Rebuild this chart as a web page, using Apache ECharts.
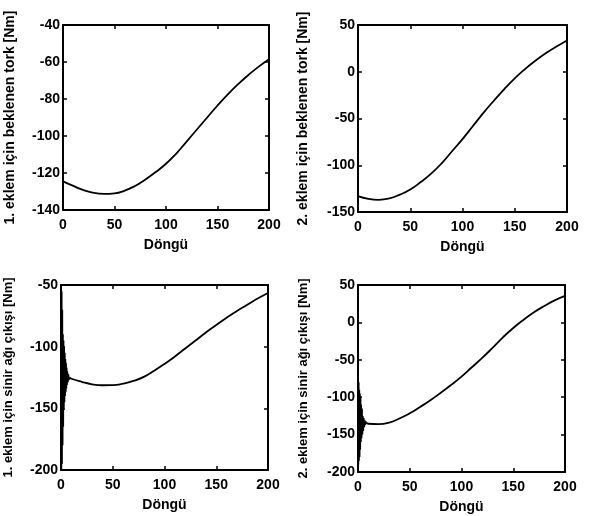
<!DOCTYPE html>
<html>
<head>
<meta charset="utf-8">
<script src="https://cdn.jsdelivr.net/npm/echarts@6/dist/echarts.min.js"></script>
<style>html,body{margin:0;padding:0;background:#fff;}#c{width:591px;height:516px;}</style>
</head>
<body>
<div id="c"></div>
<script>
// x values (Döngü) for smooth parts
const cycles = [0,10,20,30,40,50,60,70,80,90,100,110,120,130,140,150,160,170,180,190,200];
const cyclesAfter = [8,10,20,30,40,50,60,70,80,90,100,110,120,130,140,150,160,170,180,190,200];

// Panel 1: 1. eklem için beklenen tork
const torque1 = [-124.5,-127,-129.3,-130.8,-131.3,-131,-129.5,-127,-123.5,-119.5,-115,-109.5,-103,-96.5,-90,-83.5,-77.5,-72,-67,-62.5,-58.5];
// Panel 2: 2. eklem için beklenen tork
const torque2 = [-133,-136,-137,-135.5,-131.5,-126,-118,-109,-98,-85,-72,-58,-44,-31,-18.5,-7,3,12,20,27,33.5];
// Panel 3: 1. eklem için sinir ağı çıkışı (transient + settled)
const nnX3 = [0,0.3,0.6,0.9,1.2,1.5,1.8,2.1,2.4,2.7,3.0,3.3,3.6,3.9,4.2,4.5,4.8,5.1,5.4,5.7,6.0,6.5,7,7.5,8];
const nnY3 = [-50,-200,-55,-195,-70,-180,-90,-165,-95,-150,-100,-145,-105,-140,-110,-137,-113,-134,-117,-131,-120,-129,-122,-127,-125];
const nn1 = [-125,-126,-128.5,-130.5,-131.3,-131.2,-130,-127.8,-124.5,-119.5,-114,-108,-101.5,-95,-88.5,-82.5,-76.5,-71,-66,-61,-56.5];
// Panel 4: 2. eklem için sinir ağı çıkışı
const nnX4 = [0,0.3,0.6,0.9,1.2,1.5,1.8,2.1,2.4,2.7,3,3.4,3.8,4.2,4.6,5,5.5,6,6.5,7,7.5,8];
const nnY4 = [-20,-190,-80,-185,-90,-180,-95,-170,-100,-160,-110,-155,-115,-150,-125,-145,-128,-140,-131,-137,-133,-134];
const nn2 = [-134,-135.5,-136,-134,-128.5,-121.5,-113,-104,-94,-83.5,-72.5,-60,-47.5,-34,-20,-7.5,3.5,13.5,22,29.5,35.5];

const xTicks = {min:0, max:200, interval:50};
const yRanges = [
  {min:-140, max:-40, interval:20},
  {min:-150, max:50, interval:50},
  {min:-200, max:-50, interval:50},
  {min:-200, max:50, interval:50}
];
const yNames = [
  '1. eklem için beklenen tork [Nm]',
  '2. eklem için beklenen tork [Nm]',
  '1. eklem için sinir ağı çıkışı [Nm]',
  '2. eklem için sinir ağı çıkışı [Nm]'
];
const xName = 'Döngü';

const grids = [
  {left:63, top:25, width:206, height:185},
  {left:358, top:25, width:209, height:187},
  {left:61, top:285, width:207, height:185},
  {left:358, top:285, width:207, height:187}
];

const font = {fontFamily:'Liberation Sans', fontWeight:'bold', fontSize:14, color:'#000'};
const xAxes = [], yAxes = [];
grids.forEach((g,i)=>{
  xAxes.push({type:'value', gridIndex:i, ...xTicks, position:'bottom',
    name:xName, nameLocation:'middle', nameGap:28,
    nameTextStyle:{...font},
    axisLine:{show:true, onZero:false, lineStyle:{color:'#000', width:2}},
    axisTick:{inside:true, length:4, lineStyle:{color:'#000', width:1.5}},
    axisLabel:{...font, margin:8},
    splitLine:{show:false}});
  xAxes.push({type:'value', gridIndex:i, ...xTicks, position:'top',
    axisLine:{show:true, onZero:false, lineStyle:{color:'#000', width:2}},
    axisTick:{inside:true, length:4, lineStyle:{color:'#000', width:1.5}},
    axisLabel:{show:false}, splitLine:{show:false}});
  yAxes.push({type:'value', gridIndex:i, ...yRanges[i], position:'left',
    name:yNames[i], nameLocation:'middle', nameGap:i===0||i===2?46:48, nameRotate:90,
    nameTextStyle:{...font, fontSize:i<2?14:13},
    axisLine:{show:true, onZero:false, lineStyle:{color:'#000', width:2}},
    axisTick:{inside:true, length:4, lineStyle:{color:'#000', width:1.5}},
    axisLabel:{...font, margin:3},
    splitLine:{show:false}});
  yAxes.push({type:'value', gridIndex:i, ...yRanges[i], position:'right',
    axisLine:{show:true, onZero:false, lineStyle:{color:'#000', width:2}},
    axisTick:{inside:true, length:4, lineStyle:{color:'#000', width:1.5}},
    axisLabel:{show:false}, splitLine:{show:false}});
});

const zip = (xs, ys) => xs.map((x,k)=>[x, ys[k]]);
const lineStyle = {color:'#000', width:1.8};
const mk = (gi, data, smooth) => ({type:'line', xAxisIndex:2*gi, yAxisIndex:2*gi, data,
  showSymbol:false, symbol:'none', smooth:smooth, lineStyle, animation:false, clip:true});

const series = [
  mk(0, zip(cycles, torque1), true),
  mk(1, zip(cycles, torque2), true),
  mk(2, zip(nnX3, nnY3), false),
  mk(2, zip(cyclesAfter, nn1), true),
  mk(3, zip(nnX4, nnY4), false),
  mk(3, zip(cyclesAfter, nn2), true)
];

const chart = echarts.init(document.getElementById('c'), null, {renderer:'canvas'});
chart.setOption({backgroundColor:'#fff', animation:false, grid:grids, xAxis:xAxes, yAxis:yAxes, series});
</script>
</body>
</html>
